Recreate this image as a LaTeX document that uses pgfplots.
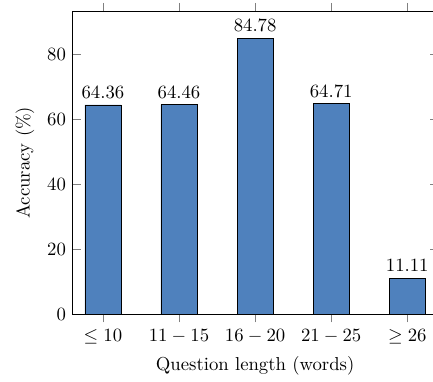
\documentclass[border={5pt 0pt -2.7pt 1.5pt}]{standalone}
\usepackage{pgfplots}
\pgfplotsset{compat=1.18}
\definecolor{barblue}{RGB}{79,129,189}
\begin{document}
\begin{tikzpicture}
\begin{axis}[
  scale only axis,
  width=195pt, height=162pt,
  ybar,
  bar width=19.3pt,
  xmin=-0.4, xmax=4.4,
  ymin=0, ymax=93.26,
  xtick=data,
  xticklabels={$\leq 10$, $11-15$, $16-20$, $21-25$, $\geq 26$},
  ytick={0,20,40,60,80},
  xlabel={Question length (words)},
  ylabel={Accuracy (\%)},
  nodes near coords,
  nodes near coords style={/pgf/number format/.cd, fixed, fixed zerofill, precision=2},
]
\addplot[fill=barblue, draw=black] coordinates {(0,64.36) (1,64.46) (2,84.78) (3,64.71) (4,11.11)};
\end{axis}
\end{tikzpicture}
\end{document}
